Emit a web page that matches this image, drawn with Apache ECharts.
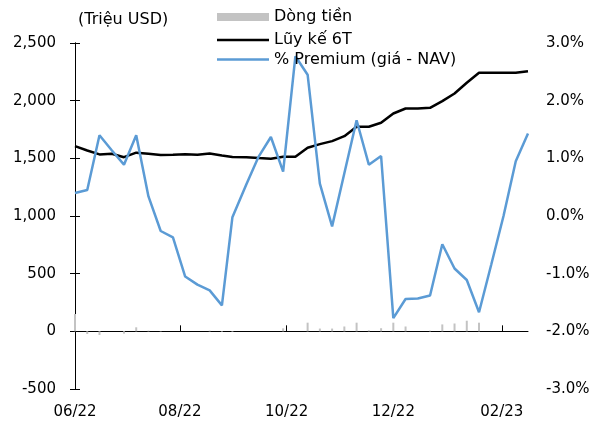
<!DOCTYPE html>
<html>
<head>
<meta charset="utf-8">
<script src="https://cdn.jsdelivr.net/npm/echarts@6/dist/echarts.min.js"></script>
<style>
html,body{margin:0;padding:0;background:#fff;}
#chart{width:598px;height:428px;}
</style>
</head>
<body>
<div id="chart"></div>
<script>
// ---- data ----
const dates = ['2022-06-02','2022-06-09','2022-06-16','2022-06-23','2022-06-30','2022-07-07','2022-07-14','2022-07-21','2022-07-28',
  '2022-08-04','2022-08-11','2022-08-18','2022-08-25','2022-08-31','2022-09-08','2022-09-15','2022-09-22','2022-09-29',
  '2022-10-06','2022-10-13','2022-10-20','2022-10-27','2022-11-03','2022-11-10','2022-11-17','2022-11-24',
  '2022-12-01','2022-12-08','2022-12-15','2022-12-22','2022-12-29','2023-01-05','2023-01-12','2023-01-19',
  '2023-01-26','2023-02-02','2023-02-09','2023-02-16'];
const flows = [150,-23,-32,0,-20,35,6,3,0,0,0,6,-5,-5,0,0,0,26,0,75,24,24,42,75,9,27,75,42,0,6,60,68,92,75,0,0,0,0];
const cum6T = [1606,1568,1534,1540,1510,1549,1540,1528,1531,1536,1531,1542,1525,1512,1510,1502,1497,1514,1514,1592,
  1623,1649,1692,1774,1774,1808,1889,1932,1932,1938,1996,2062,2155,2242,2242,2242,2242,2256];
const premium = [0.40,0.45,1.40,1.14,0.89,1.40,0.34,-0.26,-0.37,-1.05,-1.19,-1.29,-1.55,-0.02,0.55,1.03,1.37,0.77,
  2.77,2.45,0.56,-0.18,0.74,1.66,0.89,1.04,-1.77,-1.44,-1.43,-1.38,-0.49,-0.91,-1.11,-1.67,-0.84,0.00,0.95,1.43];
const tickDates = ['2022-06-02','2022-08-01','2022-10-01','2022-12-01','2023-02-01'];
const tickLabels = ['06/22','08/22','10/22','12/22','02/23'];
const seriesNames = ['Dòng tiền','Lũy kế 6T','% Premium (giá - NAV)'];

// day offset from the first date (date axis as days)
const t0 = Date.UTC(2022, 5, 2);
const day = s => { const p = s.split('-').map(Number); return Math.round((Date.UTC(p[0], p[1]-1, p[2]) - t0) / 86400000); };
const xs = dates.map(day);
const tickX = tickDates.map(day);
const FONT = 'DejaVu Sans';

const chart = echarts.init(document.getElementById('chart'), null, {renderer:'canvas'});
const axisLine = {show:true, lineStyle:{color:'#000', width:1}};
const legendText = {fontFamily:FONT, fontSize:16, color:'#000'};
chart.setOption({
  animation:false,
  textStyle:{fontFamily:FONT},
  legend:[
    {orient:'vertical', left:212, top:4, itemWidth:52, itemHeight:8, itemGap:4,
     textStyle:legendText, data:[{name:seriesNames[0], icon:'rect'}]},
    {orient:'vertical', left:212, top:27, itemWidth:52, itemHeight:2.5, itemGap:3.5,
     textStyle:legendText,
     data:[{name:seriesNames[1], icon:'rect'}, {name:seriesNames[2], icon:'rect'}]}
  ],
  graphic:[{type:'text', left:78, top:12, style:{text:'(Triệu USD)', font:'16px "DejaVu Sans"', fill:'#000'}}],
  grid:{left:75, right:70, top:43, bottom:39},
  xAxis:[
    {type:'value', min:xs[0], max:xs[xs.length-1],
     axisLine:{show:true, onZero:true, lineStyle:{color:'#000', width:1}},
     axisTick:{show:true, inside:true, length:6, customValues:tickX, lineStyle:{color:'#000'}},
     axisLabel:{show:false}, splitLine:{show:false}},
    {type:'value', min:xs[0], max:xs[xs.length-1], position:'bottom',
     axisLine:{show:false, onZero:false}, axisTick:{show:false}, splitLine:{show:false},
     axisLabel:{show:true, customValues:tickX, margin:16, fontSize:15, color:'#000', fontFamily:FONT,
       showMinLabel:true, showMaxLabel:true,
       formatter:v => { const i = tickX.indexOf(v); return i >= 0 ? tickLabels[i] : ''; }}}
  ],
  yAxis:[
    {type:'value', min:-500, max:2500, interval:500, position:'left',
     axisLine:axisLine, axisTick:{show:true, inside:true, length:5, lineStyle:{color:'#000'}},
     splitLine:{show:false},
     axisLabel:{margin:19, fontSize:15, color:'#000', fontFamily:FONT,
       formatter:v => v.toLocaleString('en-US')}},
    {type:'value', min:-3, max:3, interval:1, position:'right',
     axisLine:axisLine, axisTick:{show:true, inside:true, length:5, lineStyle:{color:'#000'}},
     splitLine:{show:false},
     axisLabel:{margin:18, fontSize:15, color:'#000', fontFamily:FONT,
       formatter:v => v.toFixed(1) + '%'}}
  ],
  series:[
    {name:seriesNames[0], type:'bar', xAxisIndex:0, yAxisIndex:0, barWidth:2,
     itemStyle:{color:'#c3c3c3'}, data:xs.map((x,i)=>[x, flows[i]])},
    {name:seriesNames[1], type:'line', xAxisIndex:0, yAxisIndex:0, symbol:'none',
     lineStyle:{color:'#000', width:2.5}, itemStyle:{color:'#000'},
     data:xs.map((x,i)=>[x, cum6T[i]])},
    {name:seriesNames[2], type:'line', xAxisIndex:0, yAxisIndex:1, symbol:'none',
     lineStyle:{color:'#5b9bd5', width:2.5}, itemStyle:{color:'#5b9bd5'},
     data:xs.map((x,i)=>[x, premium[i]])}
  ]
});
</script>
</body>
</html>
